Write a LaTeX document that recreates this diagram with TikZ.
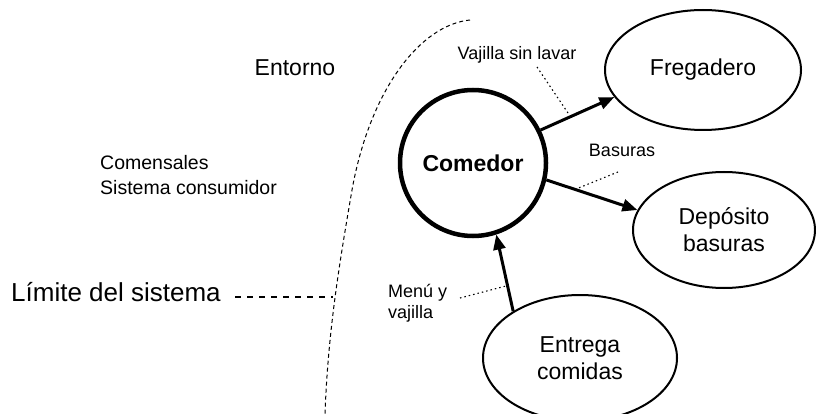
\documentclass[tikz,border=0pt]{standalone}
\usepackage{fontspec}
\setmainfont{Liberation Sans}
\usetikzlibrary{shapes.geometric,arrows.meta}
\tikzset{
  bubble/.style={draw, ellipse, line width=2pt, inner sep=0pt, align=center,
    font=\fontsize{23}{27}\selectfont},
  hub/.style={draw, circle, line width=4.5pt, inner sep=0pt, minimum size=146pt,
    font=\fontsize{23}{27}\selectfont\bfseries},
  flow/.style={line width=3pt, -{Triangle[length=15pt,width=12pt]}},
  leader/.style={line width=1.1pt, dash pattern=on 1.5pt off 3pt},
  boundary/.style={line width=1pt, dash pattern=on 4pt off 3pt},
  limdash/.style={line width=2pt, dash pattern=on 6pt off 6pt},
  smalllabel/.style={font=\fontsize{18}{21}\selectfont, inner sep=0pt},
}
\begin{document}
\begin{tikzpicture}[x=1pt,y=-1pt]
\useasboundingbox (0,0) rectangle (816,414);

% system boundary
\draw[boundary] (470,20) .. controls (420,25) and (370,90) .. (352,190)
  .. controls (340,260) and (328,330) .. (325,414);

% texts of the environment
\node[font=\fontsize{23}{27}\selectfont, inner sep=0pt] (entorno) at (295,68) {Entorno};
\node[font=\fontsize{19.5}{25}\selectfont, align=left, anchor=west, inner sep=0pt] (comensales) at (100,175) {Comensales\\Sistema consumidor};
\node[font=\fontsize{26}{30}\selectfont, anchor=west, inner sep=0pt] (limite) at (11,292) {Límite del sistema};
\coordinate (lim0) at (235,297);
\coordinate (lim) at (333,297);
\draw[limdash] (lim0) -- (lim);

% nodes
\node[hub] (comedor) at (473,163) {Comedor};
\node[bubble, minimum width=196pt, minimum height=120pt] (fregadero) at (703,70) {Fregadero};
\node[bubble, minimum width=182pt, minimum height=116pt] (deposito) at (724,230) {Depósito\\basuras};
\node[bubble, minimum width=194pt, minimum height=126pt] (entrega) at (580,358) {Entrega\\comidas};

% flows
\draw[flow] (comedor.26) -- (fregadero.197);
\draw[flow] (comedor.-13) -- (deposito.167);
\draw[flow] (entrega.145) -- (comedor.-72);

% flow labels
\node[smalllabel] (vajilla) at (517,55) {Vajilla sin lavar};
\node[smalllabel] (basuras) at (622,150) {Basuras};
\node[smalllabel, align=left, anchor=west] (menu) at (388,303) {Menú y\\vajilla};

\coordinate (v1) at (537,67);
\coordinate (v2) at (568,113);
\draw[leader] (v1) -- (v2);
\coordinate (b1) at (618,172);
\coordinate (b2) at (576,189);
\draw[leader] (b1) -- (b2);
\coordinate (m1) at (460,298);
\coordinate (m2) at (506,286);
\draw[leader] (m1) -- (m2);
\end{tikzpicture}
\end{document}
